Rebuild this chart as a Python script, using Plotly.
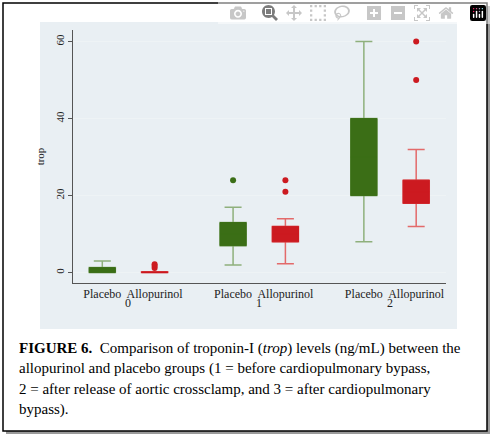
import plotly.graph_objects as go

groups = ["0", "1", "2"]
treatments = ["Placebo", "Allopurinol"]
# per box: lower whisker, q1, median, q3, upper whisker
placebo_stats = [[0, 0, 0.5, 1.3, 3], [2, 7, 10, 13, 17], [8, 20, 30, 40, 60]]
allo_stats = [[0, 0, 0, 0.2, 0.2], [2.3, 8, 10, 12, 14], [12, 18, 21, 24, 32]]
placebo_out = [[], [24], []]
allo_out = [[1.2, 1.7, 2.2], [21, 24], [50, 60]]
yticks = [0, 20, 40, 60]

W, H = 492, 436
fig = go.Figure()
cols = {"Placebo": ("#3b6e16", "#8fb07c"), "Allopurinol": ("#cc1a20", "#e36a6a")}
tickvals, ticktext = [], []
for gi, g in enumerate(groups):
    for ti, (t, stats, outs) in enumerate([("Placebo", placebo_stats, placebo_out),
                                            ("Allopurinol", allo_stats, allo_out)]):
        x = gi * 2.5 + ti
        tickvals.append(x); ticktext.append(t)
        lo, q1, md, q3, hi = stats[gi]
        dark, light = cols[t]
        fig.add_trace(go.Box(x=[x], lowerfence=[lo], q1=[q1], median=[md], q3=[q3], upperfence=[hi],
                             width=0.5, whiskerwidth=0.65, line=dict(color=light, width=1.5),
                             fillcolor=dark, showlegend=False, hoverinfo="skip"))
        fig.add_trace(go.Box(x=[x], lowerfence=[q1], q1=[q1], median=[md], q3=[q3], upperfence=[q3],
                             width=0.5, whiskerwidth=0, line=dict(color=dark, width=1),
                             fillcolor=dark, showlegend=False, hoverinfo="skip"))
        if outs[gi]:
            fig.add_trace(go.Scatter(x=[x] * len(outs[gi]), y=outs[gi], mode="markers",
                                     marker=dict(color=dark, size=6), showlegend=False))

shapes = [
    dict(type="rect", xref="paper", yref="paper", x0=6/W, x1=490/W, y0=1-434/H, y1=1-6/H,
         fillcolor="#9a9a9a", line=dict(width=0), layer="below"),
    dict(type="rect", xref="paper", yref="paper", x0=3/W, x1=487/W, y0=1-431/H, y1=1-3/H,
         fillcolor="white", line=dict(color="black", width=1.5), layer="below"),
    dict(type="rect", xref="paper", yref="paper", x0=40/W, x1=457/W, y0=1-329/H, y1=1-22/H,
         fillcolor="#e9eff3", line=dict(width=0), layer="below"),
]
annotations = []
for gi, g in enumerate(groups):
    annotations.append(dict(x=gi * 2.5 + 0.5, y=1 - 312/H, xref="x", yref="paper", text=g,
                            showarrow=False, font=dict(size=12, color="#222")))
caption = ["<b>FIGURE 6.</b>  Comparison of troponin-I (<i>trop</i>) levels (ng/mL) between the",
           "allopurinol and placebo groups (1 = before cardiopulmonary bypass,",
           "2 = after release of aortic crossclamp, and 3 = after cardiopulmonary",
           "bypass)."]
for i, line in enumerate(caption):
    annotations.append(dict(x=17/W, y=1 - (348 + i * 20.5)/H, xref="paper", yref="paper",
                            xanchor="left", yanchor="middle", text=line, showarrow=False,
                            font=dict(size=15, color="black")))

fig.update_layout(
    width=W, height=H, margin=dict(l=0, r=0, t=0, b=0), paper_bgcolor="white", plot_bgcolor="white",
    font=dict(family="Liberation Serif", color="#222"), shapes=shapes, annotations=annotations,
    boxmode="overlay",
    xaxis=dict(domain=[73/W, 446/W], range=[-0.56, 6.57], tickvals=tickvals, ticktext=ticktext,
               showgrid=False, zeroline=False, showline=True, linecolor="#555", ticks="",
               tickfont=dict(size=12, color="#222")),
    yaxis=dict(domain=[1-283/H, 1-30/H], range=[-2.7, 63], tickvals=yticks, tickangle=-90,
               showgrid=True, gridcolor="#eef3f5", zeroline=False, showline=True, linecolor="#555",
               ticks="outside", ticklen=4, tickcolor="#555", tickfont=dict(size=11),
               title=dict(text="trop", font=dict(size=11), standoff=6)),
)
fig.write_html("out.html")
with open("out.html") as f:
    html = f.read()
html = html.replace("<head>", "<head><style>html,body{margin:0;padding:0;overflow:hidden}</style>", 1)
with open("out.html", "w") as f:
    f.write(html)
